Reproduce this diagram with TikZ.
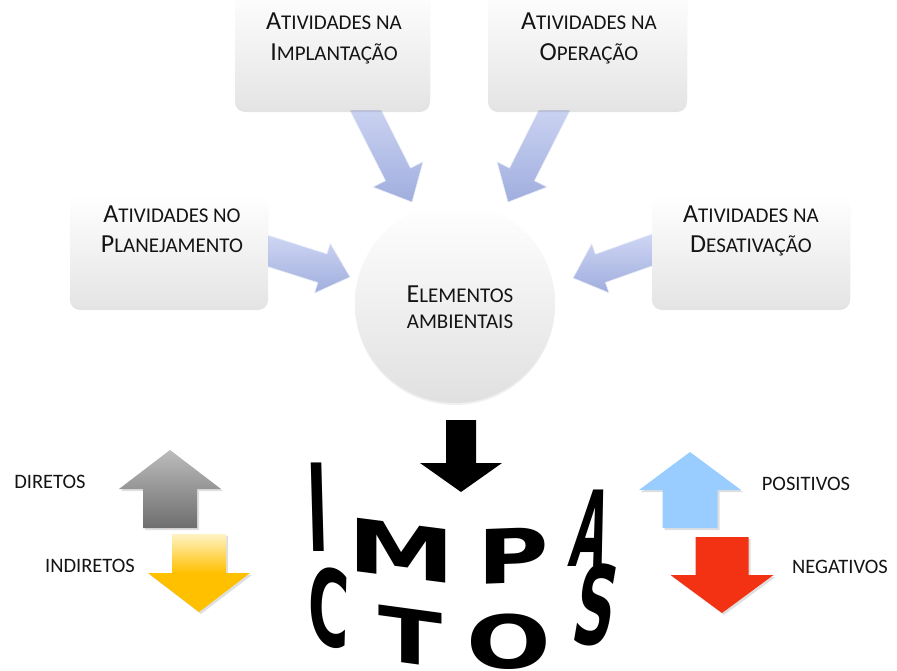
\documentclass[tikz,border=0pt]{standalone}
\usepackage{fontspec}
\setmainfont{Carlito}
\newfontfamily\letterfont{DejaVu Sans}
\usetikzlibrary{shadows}

\definecolor{titletext}{RGB}{20,20,20}
\definecolor{boxlow}{RGB}{228,228,228}
\definecolor{flowlight}{RGB}{208,215,244}
\definecolor{flowdark}{RGB}{160,174,222}
\definecolor{graytop}{RGB}{188,188,188}
\definecolor{graybot}{RGB}{110,110,110}
\definecolor{yellowtop}{RGB}{255,243,196}
\definecolor{yellowmain}{RGB}{255,192,0}
\definecolor{bluepos}{RGB}{153,204,255}
\definecolor{redneg}{RGB}{242,50,18}

% small caps built from two sizes of the same face
\newcommand\capfirst[2]{{\fontsize{26}{30}\selectfont #1}{\fontsize{21}{30}\selectfont #2}}
\newcommand\capsmall[1]{{\fontsize{21}{30}\selectfont #1}}

% block arrow: style, tail point, angle, length, shaft half width, head length, head half width
\newcommand\blockarrow[7]{%
  \begin{scope}[shift={#2},rotate=#3]
    \path[#1] (0,-#5) -- ({#4-#6},-#5) -- ({#4-#6},-#7) -- (#4,0)
      -- ({#4-#6},#7) -- ({#4-#6},#5) -- (0,#5) -- cycle;
  \end{scope}}

\tikzset{
  actbox/.style={rectangle, rounded corners=10pt, inner sep=0pt,
    top color=white, middle color=white, bottom color=boxlow,
    drop shadow={opacity=0.22, shadow xshift=0pt, shadow yshift=-2pt}},
  title/.style={anchor=base, inner sep=0pt, text=titletext},
  flow/.style={top color=flowlight, bottom color=flowdark, draw=white!75!flowdark, line width=0.6pt},
  plain/.style={anchor=base, inner sep=0pt, text=titletext, font=\fontsize{20.5}{24}\selectfont},
  bigletter/.style={inner sep=0pt, font=\letterfont\bfseries\fontsize{75}{75}\selectfont},
  tipshadow/.style={drop shadow={opacity=0.25, shadow xshift=2pt, shadow yshift=-2pt}}
}

\begin{document}
\begin{tikzpicture}[x=1pt,y=-1pt]
\useasboundingbox (0,0) rectangle (897,670);
\clip (0,0) rectangle (897,670);

% central element
\node[circle, minimum size=200pt, inner sep=0pt, top color=white, middle color=white,
      bottom color=gray!24, drop shadow={opacity=0.12, shadow xshift=0pt, shadow yshift=-2pt}]
      (env) at (455,303) {};

% activity flows towards the environment
\blockarrow{flow}{(362.4,103.9)}{-63.2}{110}{14}{31}{28}
\blockarrow{flow}{(557.6,103.9)}{-116.8}{110}{14}{31}{28}
\blockarrow{flow}{(259.5,248.3)}{-17.6}{95}{15}{29}{26}
\blockarrow{flow}{(662.6,246.3)}{-160.5}{95}{15}{29}{26}

% activity boxes
\node[actbox, minimum width=195pt, minimum height=122pt] (impbox) at (332.5,49) {};
\node[actbox, minimum width=199pt, minimum height=122pt] (opbox) at (587.5,49) {};
\node[actbox, minimum width=198pt, minimum height=113pt] (planbox) at (169,251.5) {};
\node[actbox, minimum width=198pt, minimum height=113pt] (desbox) at (751,251.5) {};

% box titles
\node[title] (imp1) at (334,29) {\capfirst{A}{TIVIDADES NA}};
\node[title] (imp2) at (334,60) {\capfirst{I}{MPLANTAÇÃO}};
\node[title] (op1) at (589,29) {\capfirst{A}{TIVIDADES NA}};
\node[title] (op2) at (589,60) {\capfirst{O}{PERAÇÃO}};
\node[title] (plan1) at (172,222) {\capfirst{A}{TIVIDADES NO}};
\node[title] (plan2) at (172,252) {\capfirst{P}{LANEJAMENTO}};
\node[title] (des1) at (751,222) {\capfirst{A}{TIVIDADES NA}};
\node[title] (des2) at (751,252) {\capfirst{D}{ESATIVAÇÃO}};
\node[title] (env1) at (460,302) {\capfirst{E}{LEMENTOS}};
\node[title] (env2) at (460,328) {\capsmall{AMBIENTAIS}};

% arrow into the impacts
\blockarrow{fill=black}{(461,420)}{-90}{72}{15}{29}{41}

% IMPACTOS, bent round a drum
\node[bigletter, xscale=0.75, yscale=1.62, xslant=-0.06] (lI) at (318,507) {I};
\node[bigletter, xscale=1.45, yscale=0.98, yslant=-0.19] (lM) at (402,551) {M};
\node[bigletter, xscale=1.3, yscale=1.0, yslant=0.05] (lP) at (513,556) {P};
\node[bigletter, xscale=0.6, yscale=1.4, xslant=0.42] (lA) at (592,528) {A};
\node[bigletter, xscale=0.75, yscale=1.4, xslant=0.05, yslant=-0.15] (lC) at (329,607) {C};
\node[bigletter, xscale=1.25, yscale=1.0, yslant=-0.17] (lT) at (410,637) {T};
\node[bigletter, xscale=1.33, yscale=0.98] (lO) at (509,642) {O};
\node[bigletter, xscale=0.75, yscale=1.45, xslant=0.33] (lS) at (597,605) {S};

% direct / indirect
\blockarrow{top color=graytop, bottom color=graybot, tipshadow}{(170,528)}{90}{78}{27}{39}{51}
\blockarrow{top color=yellowtop, bottom color=yellowmain, middle color=yellowmain, tipshadow}{(199,534)}{-90}{78}{27}{39}{51}
\node[plain] (dir) at (50,488) {DIRETOS};
\node[plain] (indir) at (90,572) {INDIRETOS};

% positive / negative
\blockarrow{fill=bluepos, tipshadow}{(690,528)}{90}{76}{27.5}{38}{51}
\blockarrow{fill=redneg, tipshadow}{(722,537)}{-90}{76}{26.5}{38}{51.5}
\node[plain] (pos) at (806,490) {POSITIVOS};
\node[plain] (neg) at (840,573) {NEGATIVOS};
\end{tikzpicture}
\end{document}
